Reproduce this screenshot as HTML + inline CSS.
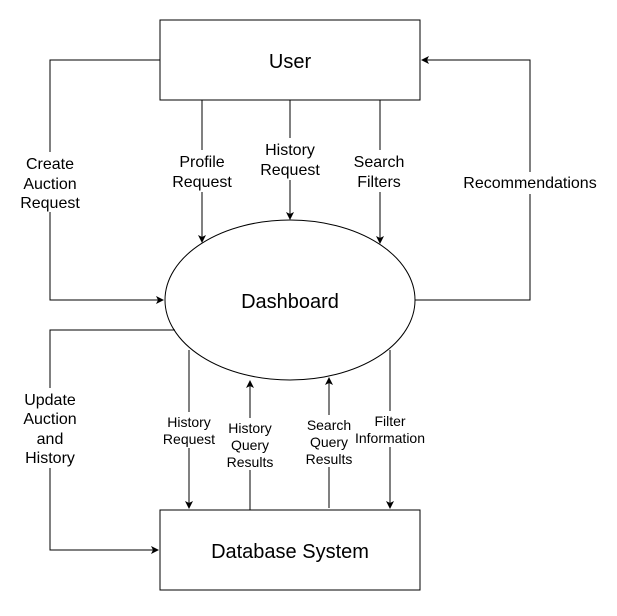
<!DOCTYPE html>
<html><head><style>body{margin:0;background:#fff}</style></head><body>
<svg width="617" height="611" viewBox="0 0 617 611" xmlns="http://www.w3.org/2000/svg" font-family="Liberation Sans, sans-serif">
<defs><marker id="a" markerWidth="8" markerHeight="8" refX="7" refY="4" orient="auto" markerUnits="userSpaceOnUse"><path d="M0,0 L8,4 L0,8 L2,4 z" fill="#000"/></marker></defs>
<g stroke="#000" fill="none" stroke-width="1">
<rect x="160" y="20" width="260" height="80" fill="#fff"/>
<ellipse cx="290" cy="300" rx="125" ry="80" fill="#fff"/>
<rect x="160" y="510" width="260" height="80" fill="#fff"/>
<path d="M160,60 H50 V300 H163" marker-end="url(#a)"/>
<path d="M202,100 V242" marker-end="url(#a)"/>
<path d="M290,100 V219" marker-end="url(#a)"/>
<path d="M380,100 V243" marker-end="url(#a)"/>
<path d="M415,300 H530 V60 H422" marker-end="url(#a)"/>
<path d="M175,330 H50 V550 H158" marker-end="url(#a)"/>
<path d="M189,350 V508" marker-end="url(#a)"/>
<path d="M250,510 V381" marker-end="url(#a)"/>
<path d="M329,508 V378" marker-end="url(#a)"/>
<path d="M390,350 V508" marker-end="url(#a)"/>
</g>
<g text-anchor="middle" fill="#000">
<text x="290" y="68" font-size="20">User</text>
<text x="290" y="308" font-size="20">Dashboard</text>
<text x="290" y="558" font-size="20">Database System</text>
<g font-size="16">
<rect x="18" y="152" width="66" height="60" fill="#fff"/>
<text x="50" y="169">Create</text><text x="50" y="189">Auction</text><text x="50" y="208">Request</text>
<rect x="168" y="150" width="68" height="42" fill="#fff"/>
<text x="202" y="167">Profile</text><text x="202" y="187">Request</text>
<rect x="256" y="138" width="68" height="42" fill="#fff"/>
<text x="290" y="155">History</text><text x="290" y="175">Request</text>
<rect x="348" y="150" width="64" height="42" fill="#fff"/>
<text x="379" y="167">Search</text><text x="379" y="187">Filters</text>
<rect x="460" y="172" width="140" height="22" fill="#fff"/>
<text x="530" y="188">Recommendations</text>
<rect x="18" y="388" width="64" height="80" fill="#fff"/>
<text x="50" y="405">Update</text><text x="50" y="424">Auction</text><text x="50" y="444">and</text><text x="50" y="463">History</text>
</g>
<g font-size="14">
<rect x="158" y="412" width="62" height="36" fill="#fff"/>
<text x="189" y="427">History</text><text x="189" y="444">Request</text>
<rect x="222" y="418" width="58" height="52" fill="#fff"/>
<text x="250" y="433">History</text><text x="250" y="450">Query</text><text x="250" y="467">Results</text>
<rect x="301" y="415" width="58" height="52" fill="#fff"/>
<text x="329" y="430">Search</text><text x="329" y="447">Query</text><text x="329" y="464">Results</text>
<rect x="353" y="411" width="76" height="36" fill="#fff"/>
<text x="390" y="426">Filter</text><text x="390" y="443">Information</text>
</g>
</g>
</svg>
</body></html>
